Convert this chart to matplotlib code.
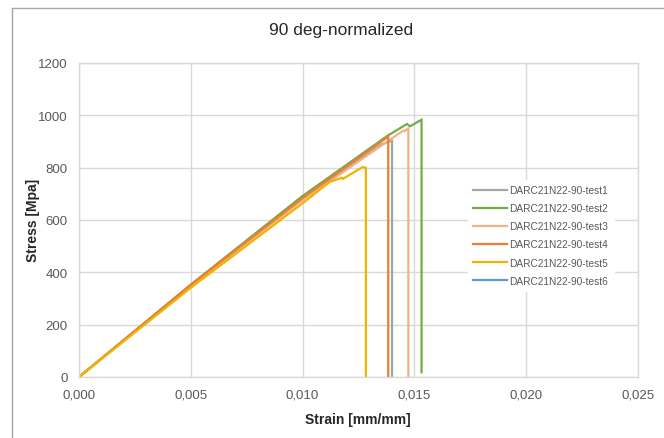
import matplotlib
matplotlib.use("Agg")
import matplotlib.pyplot as plt
from matplotlib.lines import Line2D
from matplotlib.ticker import FuncFormatter

# Strain [mm/mm] / Stress [MPa]
strain_t1 = [0.0, 0.005, 0.010, 0.0135, 0.0140, 0.0140]
stress_t1 = [0, 350, 680, 888, 903, 0]

strain_t2 = [0.0, 0.005, 0.010, 0.0138, 0.01467, 0.0148, 0.01532, 0.01532]
stress_t2 = [0, 353, 692, 922, 967, 958, 983, 18]

strain_t3 = [0.0, 0.005, 0.010, 0.0145, 0.01458, 0.01473, 0.01473]
stress_t3 = [0, 347, 676, 942, 940, 952, 0]

strain_t4 = [0.0, 0.005, 0.010, 0.01383, 0.01383]
stress_t4 = [0, 352, 684, 919, 0]

strain_t5 = [0.0, 0.005, 0.010, 0.01122, 0.01176, 0.0118, 0.0127, 0.01279, 0.01283, 0.01283]
stress_t5 = [0, 341, 664, 746, 761, 757, 803, 800, 800, 0]

strain_t6 = []
stress_t6 = []

labels = ["DARC21N22-90-test1", "DARC21N22-90-test2", "DARC21N22-90-test3",
          "DARC21N22-90-test4", "DARC21N22-90-test5", "DARC21N22-90-test6"]
colors = ["#a5a5a5", "#70ad47", "#f4b183", "#ed7d31", "#f0b400", "#5b9bd5"]

x_ticks = [0.0, 0.005, 0.010, 0.015, 0.020, 0.025]
y_ticks = [0, 200, 400, 600, 800, 1000, 1200]

plt.rcParams["font.family"] = ["Liberation Sans", "DejaVu Sans"]

fig = plt.figure(figsize=(6.64, 4.39), dpi=100)
ax = fig.add_axes([79 / 664, 1 - 378 / 439, (638 - 79) / 664, (378 - 64) / 439])

series = [(strain_t1, stress_t1), (strain_t2, stress_t2), (strain_t3, stress_t3),
          (strain_t4, stress_t4), (strain_t5, stress_t5), (strain_t6, stress_t6)]
for (xs, ys), lab, col in zip(series, labels, colors):
    ax.plot(xs, ys, color=col, lw=1.6, label=lab, solid_joinstyle="miter")

ax.set_xlim(0, 0.025)
ax.set_ylim(0, 1200)
ax.set_xticks(x_ticks)
ax.set_yticks(y_ticks)
ax.xaxis.set_major_formatter(FuncFormatter(lambda v, p: f"{v:.3f}".replace(".", ",")))
ax.grid(True, color="#d9d9d9", lw=1)
ax.set_axisbelow(True)
for s in ax.spines.values():
    s.set_color("#d9d9d9")
    s.set_linewidth(1)
ax.tick_params(length=0, labelsize=9.5, colors="#595959", pad=8)

ax.set_xlabel("Strain [mm/mm]", fontsize=10, fontweight="bold", color="#262626")
ax.xaxis.set_label_coords((358 - 79) / 559, -(420 - 378) / 314)
ax.set_ylabel("Stress [Mpa]", fontsize=10, fontweight="bold", color="#262626")
ax.yaxis.set_label_coords(-(79 - 33) / 559, (378 - 220) / 314)
ax.xaxis.label.set_va("center")
ax.yaxis.label.set_va("center")
fig.text(341 / 664, 1 - 30 / 439, "90 deg-normalized", ha="center", va="center",
         fontsize=12.5, color="#262626")

leg = ax.legend(loc="upper left", bbox_to_anchor=((468 - 79) / 559, (378 - 181) / 314),
                frameon=True, fontsize=7.3, handlelength=3.3, handletextpad=0.3,
                labelspacing=0.8, borderpad=0.5, borderaxespad=0)
leg.get_frame().set_facecolor("white")
leg.get_frame().set_edgecolor("white")
leg.get_frame().set_alpha(1)
leg.get_frame().set_boxstyle("square", pad=0)
for t in leg.get_texts():
    t.set_color("#595959")

# outer chart border (partially visible in the reference)
fig.add_artist(Line2D([12 / 664, 1], [1 - 9 / 439, 1 - 9 / 439], color="#a6a6a6", lw=1))
fig.add_artist(Line2D([12 / 664, 12 / 664], [0, 1 - 9 / 439], color="#a6a6a6", lw=1))

fig.savefig("out.png", dpi=100)
